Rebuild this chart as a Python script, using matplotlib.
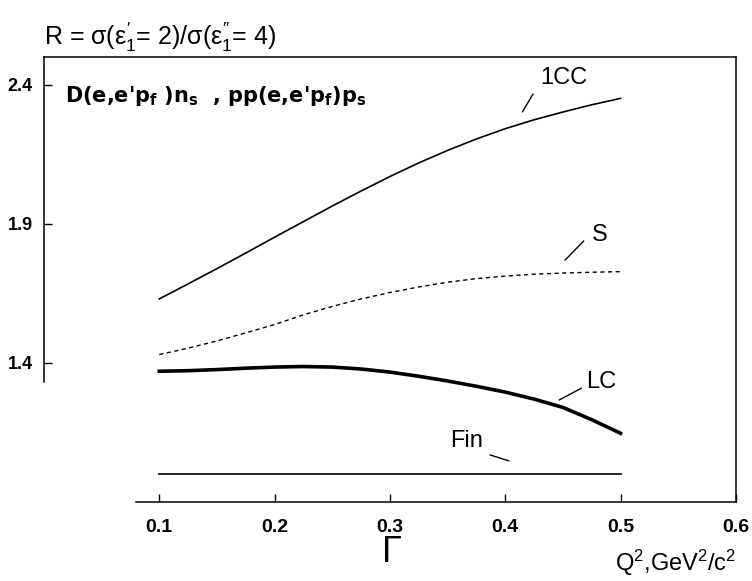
import matplotlib
matplotlib.use("Agg")
import matplotlib.pyplot as plt

plt.rcParams['font.family'] = ['Liberation Sans', 'DejaVu Sans']
plt.rcParams['mathtext.fontset'] = 'custom'
plt.rcParams['mathtext.rm'] = 'Liberation Sans'
plt.rcParams['mathtext.it'] = 'Liberation Sans'
plt.rcParams['mathtext.bf'] = 'DejaVu Sans:bold'

# Data
q2 = [0.100, 0.125, 0.150, 0.175, 0.200, 0.225, 0.250, 0.275, 0.300,
      0.325, 0.350, 0.375, 0.400, 0.425, 0.450, 0.475, 0.500]
r_1cc = [1.630, 1.684, 1.739, 1.795, 1.852, 1.908, 1.964, 2.018, 2.070,
         2.119, 2.164, 2.205, 2.242, 2.274, 2.302, 2.328, 2.351]
r_s = [1.430, 1.453, 1.479, 1.508, 1.538, 1.573, 1.603, 1.630, 1.653,
       1.673, 1.690, 1.703, 1.712, 1.719, 1.723, 1.726, 1.728]
r_lc = [1.370, 1.372, 1.376, 1.381, 1.385, 1.387, 1.385, 1.378, 1.367,
        1.352, 1.335, 1.316, 1.295, 1.270, 1.240, 1.196, 1.147]
r_fin = [1.000, 1.000, 1.000, 1.000, 1.000, 1.000, 1.000, 1.000, 1.000,
         1.000, 1.000, 1.000, 1.000, 1.000, 1.000, 1.000, 1.000]

x_ticks = [0.1, 0.2, 0.3, 0.4, 0.5, 0.6]
x_ticklabels = ["0.1", "0.2", "0.3", "0.4", "0.5", "0.6"]
y_ticks = [1.4, 1.9, 2.4]
y_ticklabels = ["1.4", "1.9", "2.4"]

fig = plt.figure(figsize=(7.52, 5.81), dpi=100)
ax = fig.add_axes([0.0585, 0.136, 0.920, 0.766])

ax.plot(q2, r_1cc, color='black', lw=1.2)
ax.plot(q2, r_s, color='black', lw=1.0, dashes=(3, 2.5))
ax.plot(q2, r_lc, color='black', lw=2.6)
ax.plot(q2, r_fin, color='black', lw=1.2)

ax.set_xlim(0, 0.6)
ax.set_ylim(0.9, 2.5)
ax.set_xticks(x_ticks)
ax.set_xticklabels(x_ticklabels, fontweight='bold', fontsize=14)
ax.set_yticks(y_ticks)
ax.set_yticklabels(y_ticklabels, fontweight='bold', fontsize=13)
ax.tick_params(axis='both', direction='in', length=6, width=1.0, colors='black')
ax.tick_params(axis='x', pad=12)
ax.tick_params(axis='y', pad=8)
for s in ax.spines.values():
    s.set_linewidth(1.1)
ax.spines['left'].set_bounds(1.33, 2.5)
ax.spines['bottom'].set_bounds(0.08, 0.6)

# curve labels with leader lines
ax.text(0.430, 2.425, "1CC", fontsize=17, va='center', ha='left')
ax.plot([0.415, 0.424], [2.303, 2.366], color='black', lw=1.0)
ax.text(0.475, 1.860, "S", fontsize=17, va='center', ha='left')
ax.plot([0.452, 0.468], [1.770, 1.838], color='black', lw=1.0)
ax.text(0.4705, 1.330, "LC", fontsize=17, va='center', ha='left')
ax.plot([0.447, 0.466], [1.267, 1.309], color='black', lw=1.0)
ax.text(0.352, 1.119, "Fin", fontsize=17, va='center', ha='left')
ax.plot([0.387, 0.403], [1.069, 1.048], color='black', lw=1.0)

ax.text(0.018, 2.36, r"D(e,e'p$_\mathbf{f}$ )n$_\mathbf{s}$  , pp(e,e'p$_\mathbf{f}$)p$_\mathbf{s}$",
        fontsize=15, fontweight='bold', family='DejaVu Sans', va='center', ha='left')

fig.text(44/752, 1 - 37/581, r"R = $\sigma(\varepsilon_1^{\prime}$= 2)/$\sigma(\varepsilon_1^{\prime\prime}$= 4)",
         fontsize=18, va='center', ha='left')
fig.text(736/752, 1 - 563/581, r"Q$^2$,GeV$^2$/c$^2$", fontsize=17, va='center', ha='right')
fig.text(392/752, 1 - 553/581, "Γ", fontsize=26, va='center', ha='center')

fig.savefig("out.png", dpi=100)
